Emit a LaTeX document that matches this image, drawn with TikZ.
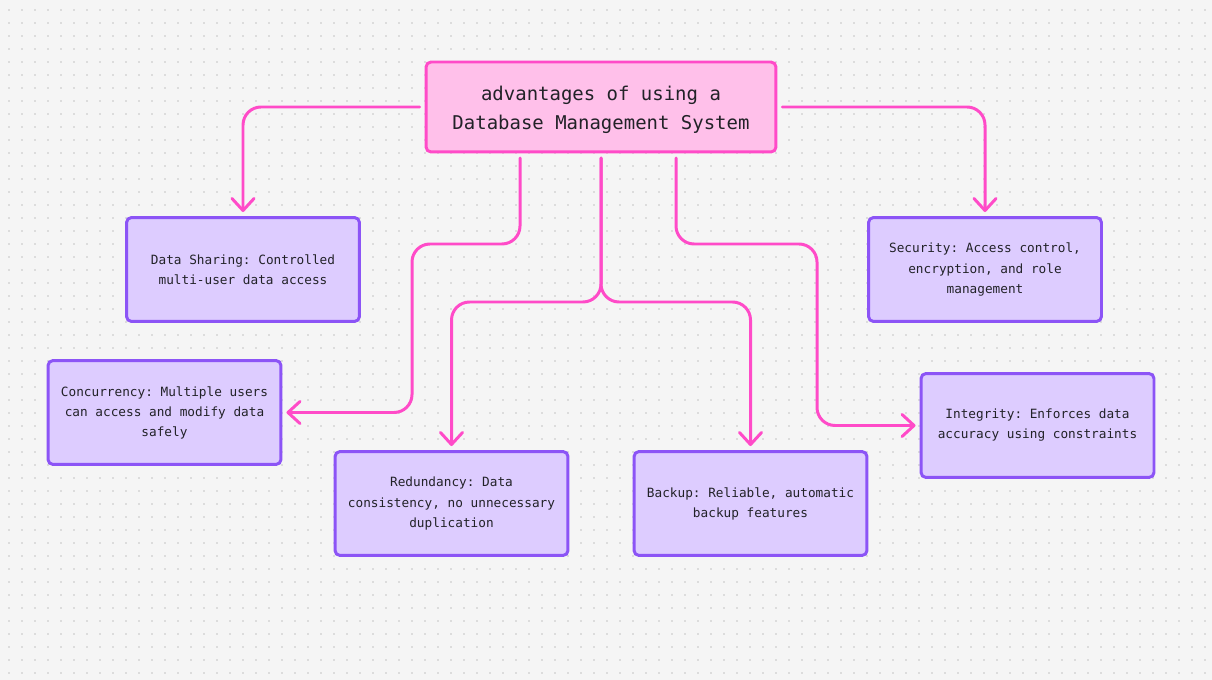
\documentclass[tikz,border=0pt]{standalone}
\usepackage{fontspec}
\setmonofont{DejaVu Sans Mono}
\usetikzlibrary{arrows.meta}
\definecolor{bggray}{RGB}{245,245,245}
\definecolor{dotgray}{RGB}{196,196,196}
\definecolor{linkpink}{RGB}{255,75,200}
\definecolor{rootfill}{RGB}{255,192,234}
\definecolor{leaffill}{RGB}{221,204,255}
\definecolor{leafline}{RGB}{140,84,246}
\definecolor{inkgray}{RGB}{34,34,40}
\def\s{0.02}
\def\punkt#1#2{({(#1)*\s},{-(#2)*\s})}

\begin{document}
\begin{tikzpicture}[line width=1.7pt,
  root/.style={draw=linkpink,fill=rootfill,rounded corners=0.1cm,minimum width=7.0cm,minimum height=1.8cm,align=center,text=inkgray,font=\ttfamily\fontsize{10.8}{16.5}\selectfont},
  leaf/.style={draw=leafline,fill=leaffill,rounded corners=0.1cm,minimum width=4.66cm,minimum height=2.08cm,align=center,text=inkgray,font=\ttfamily\fontsize{7.25}{11.4}\selectfont},
  link/.style={draw=linkpink,rounded corners=0.36cm,line cap=round,shorten <=0.1cm,shorten >=0.08cm,-{Straight Barb[length=0.24cm,width=0.44cm,round]}}]
\fill[color=bggray] \punkt{0}{0} rectangle \punkt{1212}{680};
\foreach \i in {0,...,92}{
	\foreach \j in {0,...,51}{
		\fill[color=dotgray] \punkt{9+13*\i}{10+13*\j} circle (0.016);
	}
}
% root and leaves
\node[root] (root) at \punkt{601}{107} {\rule{0pt}{11.8pt}advantages of using a\\Database Management System};
\node[leaf] (share) at \punkt{243}{269.5} {Data Sharing: Controlled\\multi-user data access};
\node[leaf] (secur) at \punkt{985}{269.5} {Security: Access control,\\encryption, and role\\management};
\node[leaf] (concur) at \punkt{164.5}{412.5} {Concurrency: Multiple users\\can access and modify data\\safely};
\node[leaf] (redund) at \punkt{451.5}{503.5} {Redundancy: Data\\consistency, no unnecessary\\duplication};
\node[leaf] (backup) at \punkt{750.5}{503.5} {Backup: Reliable, automatic\\backup features};
\node[leaf] (integ) at \punkt{1037.5}{425.5} {Integrity: Enforces data\\accuracy using constraints};
% bends
\path \punkt{520}{153} coordinate (ra);
\path \punkt{601}{153} coordinate (rb);
\path \punkt{676}{153} coordinate (rc);
\path \punkt{412}{244} coordinate (bendc);
\path \punkt{601}{302} coordinate (split);
\path \punkt{817}{244} coordinate (bendi);
% links
\draw[link] (root.west) -| (share.north);
\draw[link] (root.east) -| (secur.north);
\draw[link] (ra) |- (bendc) |- (concur.east);
\draw[link] (rb) -- (split) -| (redund.north);
\draw[link] (rb) -- (split) -| (backup.north);
\draw[link] (rc) |- (bendi) |- (integ.west);
\end{tikzpicture}
\end{document}
